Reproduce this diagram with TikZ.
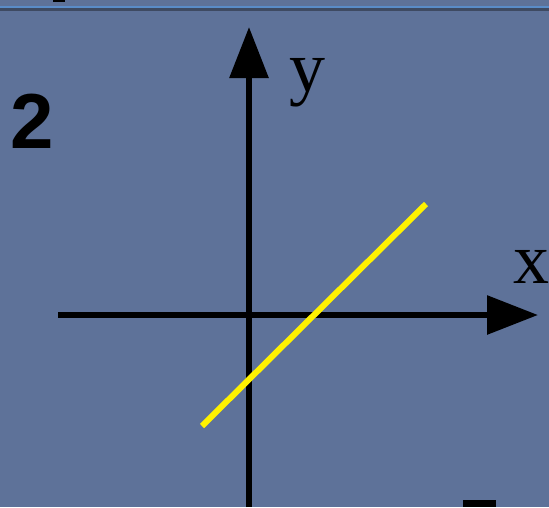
\documentclass[tikz,border=0pt]{standalone}
\usepackage{fontspec}
\setmainfont{Liberation Serif}
\newfontfamily\labelsans{Liberation Sans}
\usetikzlibrary{arrows.meta,positioning}
\definecolor{slate}{RGB}{94,114,153}
\definecolor{rulelight}{RGB}{90,140,200}
\definecolor{ruledark}{RGB}{62,74,98}
\begin{document}
\begin{tikzpicture}[
  x=1pt, y=-1pt,
  axis/.style={line width=6pt, -{Triangle[length=51pt, width=38pt]}},
  graphline/.style={yellow, line width=6pt},
  axislabel/.style={inner sep=0pt, font=\fontsize{72}{72}\selectfont},
  numlabel/.style={inner sep=0pt, font=\labelsans\bfseries\fontsize{78}{78}\selectfont}
]
  % background and top rule
  \fill[slate] (0,0) rectangle (549,507);
  \useasboundingbox (0,0) rectangle (549,507);
  \draw[rulelight, line width=2pt] (0,7) -- (549,7);
  \draw[ruledark, line width=3pt] (0,9.5) -- (549,9.5);
  % cut-off glyphs at the edges
  \fill[black] (53,0) rectangle (65,1.5);
  \fill[black] (463,500) rectangle (496,507);

  \coordinate (ybot) at (249,507);
  \coordinate (ytop) at (249,27);
  \coordinate (xleft) at (58,315);
  \coordinate (xright) at (538,315);
  \coordinate (lineA) at (202,426);
  \coordinate (lineB) at (426,204);

  \draw[axis] (ybot) -- (ytop);
  \draw[axis] (xleft) -- (xright);
  \draw[graphline] (lineA) -- (lineB);

  \node[axislabel] (ylab) at (307,83) {y};
  \node[axislabel] (xlab) at (531,267) {x};
  \node[numlabel] (num) at (32,121) {2};
\end{tikzpicture}
\end{document}
